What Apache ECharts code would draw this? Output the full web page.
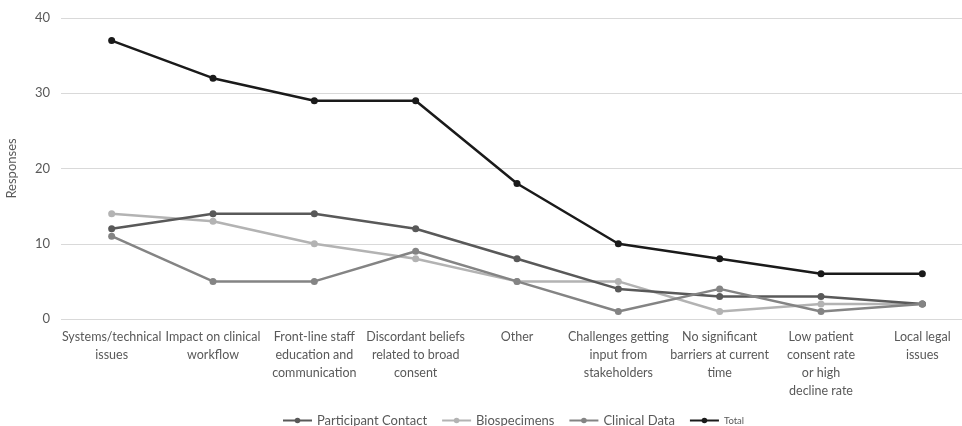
<!DOCTYPE html>
<html>
<head>
<meta charset="utf-8">
<script src="https://cdn.jsdelivr.net/npm/echarts@6/dist/echarts.min.js"></script>
<style>
  html, body { margin: 0; padding: 0; background: #fff; }
  #chart { width: 962px; height: 426px; }
</style>
</head>
<body>
<div id="chart"></div>
<script>
// Barrier categories (line breaks as shown under the axis)
const categories = [
  'Systems/technical\nissues',
  'Impact on clinical\nworkflow',
  'Front-line staff\neducation and\ncommunication',
  'Discordant beliefs\nrelated to broad\nconsent',
  'Other',
  'Challenges getting\ninput from\nstakeholders',
  'No significant\nbarriers at current\ntime',
  'Low patient\nconsent rate\nor high\ndecline rate',
  'Local legal\nissues'
];

// Responses per barrier
const participantContact = [12, 14, 14, 12, 8, 4, 3, 3, 2];
const biospecimens       = [14, 13, 10, 8, 5, 5, 1, 2, 2];
const clinicalData       = [11, 5, 5, 9, 5, 1, 4, 1, 2];
const total              = [37, 32, 29, 29, 18, 10, 8, 6, 6];

const yTicks = { min: 0, max: 40, interval: 10 };

const FONT = 'Lato, "Open Sans", sans-serif';
const TEXT = '#595959';

function lineSeries(name, data, color, z) {
  return {
    name: name,
    type: 'line',
    data: data,
    symbol: 'circle',
    symbolSize: 7,
    z: z,
    lineStyle: { color: color, width: 2.5 },
    itemStyle: { color: color },
    emphasis: { disabled: true }
  };
}

const chart = echarts.init(document.getElementById('chart'), null, { renderer: 'canvas' });
chart.setOption({
  animation: false,
  textStyle: { fontFamily: FONT },
  grid: {
    left: 61, top: 18, width: 912, height: 301,
    containLabel: false,
    outerBoundsMode: 'none'
  },
  legend: {
    left: 277,
    top: 409,
    itemWidth: 29,
    itemHeight: 7,
    itemGap: 14,
    data: ['Participant Contact', 'Biospecimens', 'Clinical Data', 'Total'],
    formatter: function (name) {
      return name === 'Total' ? '{s|' + name + '}' : '{n|' + name + '}';
    },
    textStyle: {
      color: TEXT,
      rich: {
        n: { fontSize: 13, fontFamily: FONT, color: TEXT },
        s: { fontSize: 9.5, fontFamily: FONT, color: TEXT }
      }
    }
  },
  xAxis: {
    type: 'category',
    data: categories,
    boundaryGap: true,
    axisLine: { show: false },
    axisTick: { show: false },
    axisLabel: {
      interval: 0,
      color: TEXT,
      fontSize: 12.5,
      fontFamily: FONT,
      lineHeight: 18,
      margin: 9
    }
  },
  yAxis: {
    type: 'value',
    min: yTicks.min,
    max: yTicks.max,
    interval: yTicks.interval,
    name: 'Responses',
    nameLocation: 'middle',
    nameGap: 43,
    nameTextStyle: { color: TEXT, fontSize: 13, fontFamily: FONT },
    axisLine: { show: false },
    axisTick: { show: false },
    axisLabel: { color: TEXT, fontSize: 13, fontFamily: FONT, margin: 11 },
    splitLine: { lineStyle: { color: '#d9d9d9', width: 1 } }
  },
  series: [
    lineSeries('Participant Contact', participantContact, '#595959', 4),
    lineSeries('Biospecimens', biospecimens, '#b3b3b3', 3),
    lineSeries('Clinical Data', clinicalData, '#848484', 5),
    lineSeries('Total', total, '#1a1a1a', 6)
  ]
});
</script>
</body>
</html>
